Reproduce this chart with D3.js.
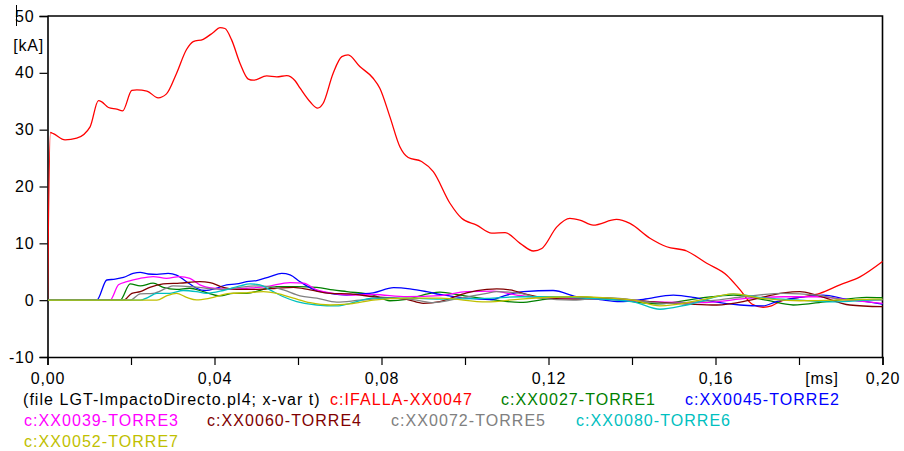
<!DOCTYPE html>
<html><head><meta charset="utf-8">
<script src="https://cdn.jsdelivr.net/npm/d3@7"></script>
<style>
body{margin:0;background:#fff;}
svg{display:block;font-family:"Liberation Sans",Arial,sans-serif;}
</style></head>
<body><svg id="c" width="904" height="451"></svg>
<script>
// ---- data (time in ms, current in kA) ----
const xTicks = [0,0.02,0.04,0.06,0.08,0.10,0.12,0.14,0.16,0.18,0.20];
const xLabelTicks = [0,0.04,0.08,0.12,0.16,0.20];
const yTicks = [-10,0,10,20,30,40,50];
const xUnit = "[ms]";
const yUnit = "[kA]";
const fileLabel = "(file LGT-ImpactoDirecto.pl4; x-var t)";
const seriesNames = ["c:IFALLA-XX0047","c:XX0027-TORRE1","c:XX0045-TORRE2","c:XX0039-TORRE3","c:XX0060-TORRE4","c:XX0072-TORRE5","c:XX0080-TORRE6","c:XX0052-TORRE7"];
const seriesColors = ["#ff0000","#008000","#0000ff","#ff00ff","#800000","#808080","#00c0c0","#c0c000"];

const ifalla = [[0,0],[0.0007,29.5],[0.0014,29.3],[0.0042,28.2],[0.007,28.5],[0.0102,30.5],[0.0122,35.1],[0.013,34.9],[0.0146,33.9],[0.0166,33.6],[0.018,33.3],[0.0202,36.9],[0.0214,37.0],[0.0238,36.8],[0.0265,35.6],[0.0285,36.3],[0.0309,39.9],[0.0333,44.1],[0.0349,45.5],[0.0373,45.9],[0.0397,47.1],[0.0413,47.95],[0.0425,47.8],[0.0441,45.8],[0.0461,41.7],[0.0481,38.9],[0.0493,38.7],[0.0525,39.45],[0.0549,39.3],[0.0573,39.5],[0.0593,38.6],[0.0605,37.3],[0.0629,34.9],[0.0647,33.8],[0.066,34.6],[0.0684,39.9],[0.0705,42.85],[0.072,43.15],[0.0748,41.1],[0.078,39.05],[0.0796,37.3],[0.082,32.3],[0.0844,27.0],[0.0864,25.1],[0.0896,24.4],[0.0924,22.6],[0.0964,17.05],[0.0992,14.4],[0.1028,13.2],[0.1064,11.8],[0.1096,11.9],[0.1132,10.0],[0.1164,8.65],[0.1184,9.1],[0.122,12.9],[0.1251,14.4],[0.1275,14.1],[0.1307,13.2],[0.1363,14.2],[0.1395,13.5],[0.1443,10.9],[0.1483,9.4],[0.1531,8.65],[0.1579,6.5],[0.1627,4.4],[0.1659,1.8],[0.1687,-0.67],[0.1714,-1.25],[0.1734,-1.0],[0.1754,-0.25],[0.1802,0.5],[0.185,1.2],[0.1898,2.7],[0.1946,4.1],[0.2,6.8]];
const torre1 = [[0,0],[0.0174,0],[0.0198,2.85],[0.0222,2.5],[0.0253,3.0],[0.0277,2.25],[0.0309,1.9],[0.0341,2.1],[0.0373,1.5],[0.0413,0.75],[0.0445,1.2],[0.0477,1.2],[0.0517,1.9],[0.0549,2.4],[0.0597,2.4],[0.0645,2.25],[0.0684,1.8],[0.0717,1.5],[0.078,0.9],[0.082,-0.1],[0.086,0.15],[0.0916,1.2],[0.094,1.4],[0.0988,0.9],[0.1068,0.05],[0.1132,-0.4],[0.1196,0.2],[0.1259,0.6],[0.1371,0],[0.1467,-0.65],[0.1563,0.35],[0.1643,0.9],[0.1722,0],[0.1786,-0.85],[0.1866,-0.25],[0.1962,0.5],[0.2,0.45]];
const torre2 = [[0,0],[0.0118,0],[0.0142,3.55],[0.0162,3.7],[0.0182,4.0],[0.0205,4.7],[0.0222,4.9],[0.0241,4.6],[0.0262,4.55],[0.0289,4.7],[0.0309,4.4],[0.0333,3.25],[0.0357,2.1],[0.0377,1.7],[0.0405,2.1],[0.0429,2.7],[0.0453,2.85],[0.0477,3.25],[0.0501,3.45],[0.0533,4.15],[0.0561,4.7],[0.0581,4.45],[0.0605,3.25],[0.0637,1.9],[0.0677,1.2],[0.0717,0.9],[0.0748,1.1],[0.078,1.3],[0.0829,2.2],[0.0868,2.0],[0.0908,1.5],[0.094,1.0],[0.1004,0.35],[0.106,0.1],[0.11,0.9],[0.114,1.5],[0.1211,1.7],[0.1267,0.6],[0.1323,0.1],[0.1371,-0.25],[0.1427,0.15],[0.1499,0.9],[0.1547,0.5],[0.1595,-0.25],[0.1659,-0.85],[0.1714,-1.0],[0.1746,-0.25],[0.1802,0.5],[0.1858,0.9],[0.1914,0.15],[0.1962,-0.25],[0.2,-0.7]];
const torre3 = [[0,0],[0.015,0],[0.017,2.7],[0.019,3.25],[0.0222,3.85],[0.0253,4.15],[0.0285,3.85],[0.0317,4.15],[0.0341,3.85],[0.0365,2.7],[0.0397,2.1],[0.0437,1.9],[0.0477,2.1],[0.0525,2.4],[0.0581,3.1],[0.0613,3.0],[0.0645,1.8],[0.0684,1.2],[0.0725,0.9],[0.078,1.0],[0.086,0.6],[0.094,0.8],[0.1004,1.5],[0.1068,1.6],[0.1124,0.9],[0.118,0.45],[0.13,0.3],[0.1443,-0.25],[0.1563,-0.45],[0.1683,0.35],[0.1763,0.6],[0.1842,0.6],[0.1922,0],[0.2,-0.55]];
const torre4 = [[0,0],[0.0182,0],[0.0202,1.2],[0.0222,1.5],[0.0245,2.25],[0.0277,2.85],[0.0317,3.0],[0.0365,3.25],[0.0389,3.1],[0.0421,2.25],[0.0453,1.9],[0.0501,1.9],[0.0549,2.1],[0.0589,2.25],[0.0629,1.8],[0.0677,1.2],[0.0725,1.1],[0.078,0.6],[0.086,0.15],[0.09,-0.55],[0.094,-0.25],[0.1004,1.3],[0.1052,1.9],[0.1076,2.0],[0.1108,1.8],[0.1148,1.0],[0.1196,0.35],[0.1259,0.2],[0.134,0.3],[0.1443,-0.25],[0.1603,-0.85],[0.1683,0],[0.1763,1.3],[0.1802,1.5],[0.1842,0.9],[0.1922,-0.85],[0.2,-1.15]];
const torre5 = [[0,0],[0.0198,0],[0.0222,1.1],[0.0253,1.2],[0.0285,2.1],[0.0301,2.5],[0.0341,2.4],[0.0381,2.1],[0.0421,1.9],[0.0461,2.25],[0.0501,2.5],[0.0533,2.4],[0.0565,1.8],[0.0605,0.75],[0.0645,0.35],[0.0693,-0.35],[0.0748,0],[0.082,0.35],[0.0884,0],[0.0924,-0.45],[0.0988,0.35],[0.1052,1.2],[0.1076,1.5],[0.1132,1.2],[0.118,0.35],[0.1259,0],[0.134,0.45],[0.1483,-0.55],[0.1603,0],[0.1667,0.6],[0.1763,1.2],[0.1842,0.9],[0.1922,0],[0.2,0]];
const torre6 = [[0,0],[0.0222,0],[0.0241,0.5],[0.0262,1.2],[0.0293,1.2],[0.0325,1.7],[0.0357,1.5],[0.0381,1.2],[0.0421,1.7],[0.0461,2.5],[0.0485,2.85],[0.0509,2.7],[0.0533,1.8],[0.0565,0.6],[0.0597,-0.25],[0.0645,-0.85],[0.0693,-1.0],[0.0725,-0.55],[0.078,0.35],[0.086,0.35],[0.094,0.2],[0.1052,0.3],[0.1132,0.6],[0.1211,0.6],[0.1299,0.3],[0.1403,-0.3],[0.1467,-1.6],[0.1531,-0.85],[0.1643,1.05],[0.1722,0.35],[0.1802,0],[0.1882,-0.3],[0.1962,0],[0.2,0.15]];
const torre7 = [[0,0],[0.0262,0],[0.0285,0.75],[0.0309,1.2],[0.0333,0.5],[0.0357,0.05],[0.0389,0.35],[0.0437,1.2],[0.0477,1.3],[0.0517,1.5],[0.0549,1.2],[0.0589,0.35],[0.0629,-0.45],[0.0677,-0.85],[0.0725,-0.65],[0.078,0],[0.086,0.35],[0.094,0.35],[0.1052,-0.3],[0.1132,0.2],[0.1259,0.6],[0.134,0.4],[0.1403,0],[0.1467,-1.0],[0.1563,0],[0.1643,1.1],[0.1707,0.35],[0.1802,-0.1],[0.1882,0],[0.1962,0.15],[0.2,0.2]];
const seriesData = [ifalla,torre1,torre2,torre3,torre4,torre5,torre6,torre7];

// ---- layout ----
const L = 47.5, R = 882.5, T = 16, B = 357;
const svg = d3.select("#c");
const x = d3.scaleLinear().domain([0,0.2]).range([L,R]);
const y = d3.scaleLinear().domain([-10,50]).range([B,T]);
const fmt = v => d3.format(".2f")(v).replace(".",",");
const FS = "16px";

// frame (top and right)
svg.append("path").attr("d",`M${L},${T}H${R}V${B}`).attr("fill","none").attr("stroke","#000").attr("stroke-width",1.6);

// axes
const yAxis = d3.axisLeft(y).tickValues(yTicks).tickSize(8).tickPadding(5).tickFormat(d=>String(d));
const gy = svg.append("g").attr("transform",`translate(${L},0)`).call(yAxis);
const xAxis = d3.axisBottom(x).tickValues(xTicks).tickSize(8).tickPadding(8)
  .tickFormat(d=> xLabelTicks.some(v=>Math.abs(v-d)<1e-9) ? fmt(d) : "");
const gx = svg.append("g").attr("transform",`translate(0,${B})`).call(xAxis);
[gx,gy].forEach(g=>{
  g.selectAll(".domain").attr("stroke","#000").attr("stroke-width",1.6);
  g.selectAll(".tick line").attr("stroke","#000").attr("stroke-width",1.2);
  g.selectAll("text").attr("fill","#000").style("font-size",FS).style("font-family",'"Liberation Sans",Arial,sans-serif').style("letter-spacing","0.8px");
});

// lines (drawn over the axes)
const line = d3.line().x(d=>x(d[0])).y(d=>y(d[1])).curve(d3.curveMonotoneX);
svg.append("clipPath").attr("id","pc").append("rect").attr("x",L+0.5).attr("y",T).attr("width",R-L).attr("height",B-T);
const lg = svg.append("g").attr("clip-path","url(#pc)");
seriesData.forEach((s,i)=>{
  lg.append("path").datum(s).attr("d",line).attr("fill","none").attr("stroke",seriesColors[i]).attr("stroke-width",1.3).attr("stroke-linejoin","round");
});

// unit labels
svg.append("text").attr("x",44).attr("y",51).attr("text-anchor","end").style("font-size",FS).style("letter-spacing","0.8px").text(yUnit);
svg.append("text").attr("x",822).attr("y",384).attr("text-anchor","middle").style("font-size",FS).style("letter-spacing","0.8px").text(xUnit);
// small cursor mark near the top label
svg.append("line").attr("x1",16.5).attr("x2",16.5).attr("y1",5).attr("y2",26).attr("stroke","#000").attr("stroke-width",1);

// legend
const legendItems = [
  {t:fileLabel,c:"#000",x:23,r:0},
  {t:seriesNames[0],c:seriesColors[0],x:330,r:0},
  {t:seriesNames[1],c:seriesColors[1],x:501,r:0},
  {t:seriesNames[2],c:seriesColors[2],x:685,r:0},
  {t:seriesNames[3],c:seriesColors[3],x:24,r:1},
  {t:seriesNames[4],c:seriesColors[4],x:207,r:1},
  {t:seriesNames[5],c:seriesColors[5],x:391,r:1},
  {t:seriesNames[6],c:seriesColors[6],x:576,r:1},
  {t:seriesNames[7],c:seriesColors[7],x:24,r:2}
];
const rowY = [404.5,425.5,446.5];
svg.append("g").selectAll("text").data(legendItems).join("text")
  .attr("x",d=>d.x).attr("y",d=>rowY[d.r]).attr("fill",d=>d.c)
  .style("font-size",FS).style("letter-spacing","1.05px").text(d=>d.t);
</script></body></html>
